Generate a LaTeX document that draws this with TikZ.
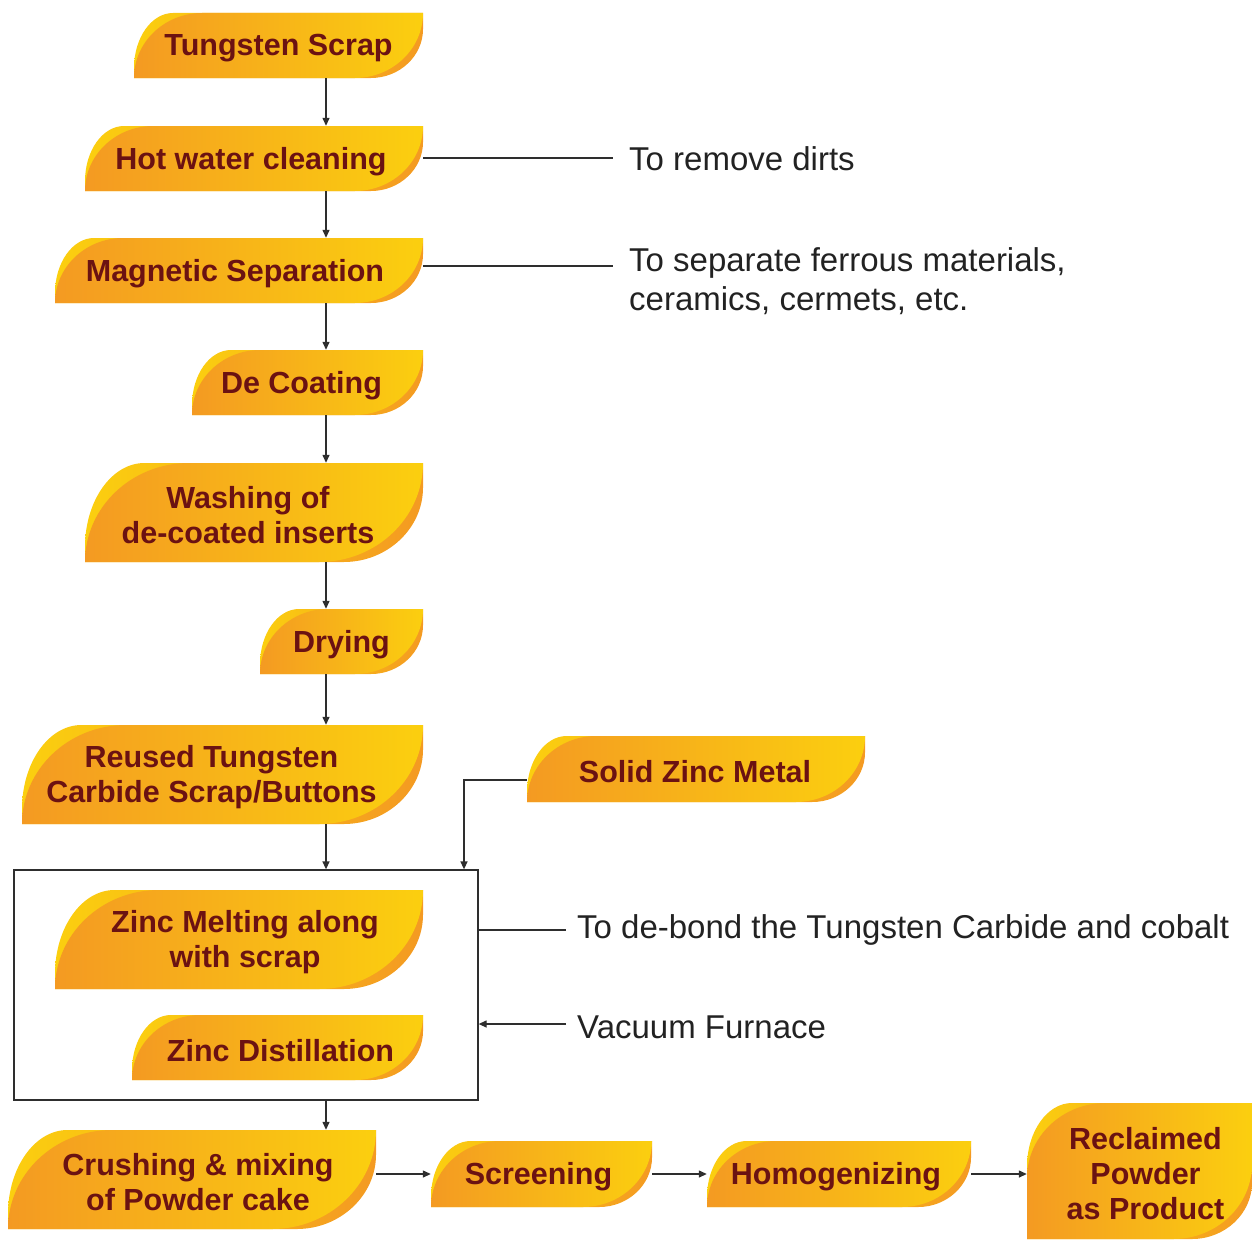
\documentclass[tikz,border=0pt]{standalone}
\usepackage{fontspec}
\setmainfont{Liberation Sans}
\usetikzlibrary{arrows.meta}

\definecolor{leafOrange}{HTML}{F49A22}
\definecolor{leafYellow}{HTML}{FBCF0F}
\definecolor{leafText}{HTML}{6B1212}
\definecolor{lineGray}{HTML}{2E2E2E}
\definecolor{noteGray}{HTML}{222222}

\tikzset{
  boxlbl/.style={inner sep=0pt, align=center, text=leafText,
    font=\fontsize{30.5}{35}\selectfont\bfseries},
  boxarea/.style={inner sep=0pt},
  note/.style={inner sep=0pt, anchor=west, align=left, text=noteGray,
    font=\fontsize{33}{39}\selectfont},
  conn/.style={draw=lineGray, line width=1.3pt},
  arr/.style={conn, -{Triangle[length=8pt,width=7pt]}},
  frame/.style={draw=lineGray, line width=1.3pt, inner sep=0pt},
}

% leaf-shaped step box: [text shift], name, left, top, right, bottom, corner size, text
\newcommand\leafbox[8][0]{%
  \shade[left color=leafYellow, right color=leafOrange]
    (#3,#6) -- (#3,{#4+0.85*#7})
    .. controls (#3,{#4+0.38*#7}) and ({#3+0.27*#7},#4) .. ({#3+0.6*#7},#4)
    -- (#5,#4) -- (#5,{#6-0.75*#7})
    .. controls (#5,{#6-0.34*#7}) and ({#5-0.36*#7},#6) .. ({#5-0.8*#7},#6)
    -- cycle;
  \shade[left color=leafOrange, right color=leafYellow]
    (#3,#6) -- (#3,{#4+#7})
    .. controls (#3,{#4+0.448*#7}) and ({#3+0.47*#7},#4) .. ({#3+1.05*#7},#4)
    -- (#5,#4) -- (#5,{#6-#7})
    .. controls (#5,{#6-0.448*#7}) and ({#5-0.47*#7},#6) .. ({#5-1.05*#7},#6)
    -- cycle;
  \node[boxarea, minimum width={#5-#3}, minimum height={#6-#4}]
    (#2) at ({(#3+#5)/2},{(#4+#6)/2}) {};
  \node[boxlbl] (#2-text) at ({(#3+#5)/2+#1},{(#4+#6)/2+3}) {#8};
}

\begin{document}
\begin{tikzpicture}[x=1pt,y=-1pt]
\useasboundingbox (0,0) rectangle (1252,1239);

% main column of steps
\leafbox{scrap}{134}{13}{423}{78}{65}{Tungsten Scrap}
\leafbox[-3]{hot}{85}{126}{423}{191}{65}{Hot water cleaning}
\leafbox[-4]{mag}{55}{238}{423}{303}{65}{Magnetic Separation}
\leafbox[-6]{decoat}{192}{350}{423}{415}{65}{De Coating}
\leafbox[-6]{wash}{85}{463}{423}{562}{99}{Washing of\\de-coated inserts}
\leafbox{dry}{260}{609}{423}{674}{65}{Drying}
\leafbox[-11]{reuse}{22}{725}{423}{824}{99}{Reused Tungsten\\Carbide Scrap/Buttons}
\leafbox[-1]{zinc}{527}{736}{865}{802}{66}{Solid Zinc Metal}

% vacuum furnace enclosure
\node[frame, minimum width=464pt, minimum height=230pt] (furnace) at (246,985) {};
\leafbox[6]{melt}{55}{890}{423}{989}{99}{Zinc Melting along\\with scrap}
\leafbox[3]{distil}{132}{1015}{423}{1080}{65}{Zinc Distillation}

% bottom row
\leafbox[6]{crush}{8}{1130}{376}{1229}{99}{Crushing \& mixing\\of Powder cake}
\leafbox[-3]{screen}{431}{1141}{652}{1207}{66}{Screening}
\leafbox[-3]{homo}{707}{1141}{971}{1207}{66}{Homogenizing}
\leafbox[6]{recl}{1027}{1103}{1252}{1239}{75}{Reclaimed\\Powder\\as Product}

% notes
\node[note] (nDirt) at (629,159) {To remove dirts};
\node[note, anchor=north west] (nFerr) at (629,247) {To separate ferrous materials,\\ceramics, cermets, etc.};
\node[note] (nBond) at (577,930) {To de-bond the Tungsten Carbide and cobalt};
\node[note] (nVac) at (577,1027) {Vacuum Furnace};

% helper points
\coordinate (spine) at (326,0);
\coordinate (zdrop) at (464,0);
\coordinate (dirtEnd) at (613,158);
\coordinate (ferrEnd) at (613,266);
\coordinate (bondEnd) at (566,930);
\coordinate (vacStart) at (566,1024);

% vertical flow
\draw[arr] (scrap.south -| spine) -- (hot.north -| spine);
\draw[arr] (hot.south -| spine) -- (mag.north -| spine);
\draw[arr] (mag.south -| spine) -- (decoat.north -| spine);
\draw[arr] (decoat.south -| spine) -- (wash.north -| spine);
\draw[arr] (wash.south -| spine) -- (dry.north -| spine);
\draw[arr] (dry.south -| spine) -- (reuse.north -| spine);
\draw[arr] (reuse.south -| spine) -- (furnace.north -| spine);
\draw[arr] (furnace.south -| spine) -- (crush.north -| spine);
\draw[arr] ([yshift=-11pt]zinc.west) -| (furnace.north -| zdrop);

% bottom row flow
\draw[arr] (crush.east |- screen.west) -- (screen.west);
\draw[arr] (screen.east) -- (homo.west);
\draw[arr] (homo.east) -- (homo.east -| recl.west);

% note leaders
\draw[conn] (hot.east |- dirtEnd) -- (dirtEnd);
\draw[conn] (mag.east |- ferrEnd) -- (ferrEnd);
\draw[conn] (furnace.east |- bondEnd) -- (bondEnd);
\draw[arr] (vacStart) -- (furnace.east |- vacStart);
\end{tikzpicture}
\end{document}
